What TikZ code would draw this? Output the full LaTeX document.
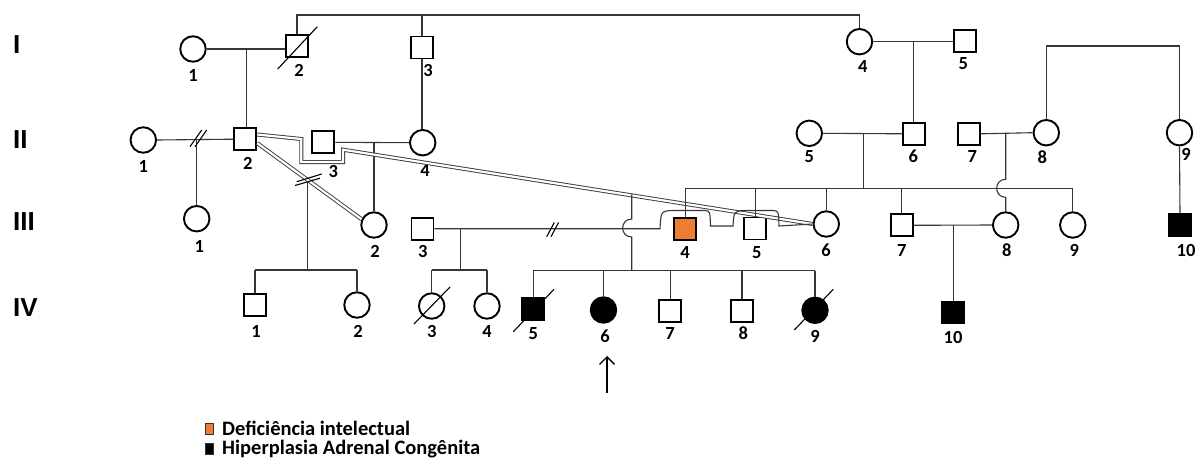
\documentclass[tikz,border=0pt]{standalone}
\usepackage{fontspec}
\setmainfont{Carlito}
\newfontfamily\genfont{Liberation Sans}
\usetikzlibrary{arrows.meta}
\definecolor{idorange}{RGB}{237,125,49}
\definecolor{lncol}{RGB}{55,55,55}
\tikzset{
 sym/.style={draw=black, line width=1.9pt, inner sep=0pt, fill=white},
 male/.style={sym, rectangle, minimum size=22pt},
 female/.style={sym, circle, minimum size=25.5pt},
 aff/.style={fill=black},
 intel/.style={fill=idorange},
 conn/.style={draw=lncol, line width=1.1pt},
 dbl/.style={draw=lncol, line width=0.9pt, double=white, double distance=2.2pt},
 num/.style={font=\bfseries\fontsize{18.5}{18.5}\selectfont, inner sep=0pt},
 gen/.style={font=\genfont\bfseries\fontsize{26}{26}\selectfont, inner sep=0pt, anchor=base west},
 slashln/.style={draw=black, line width=1.1pt},
 legbox/.style={draw=black!80, line width=1pt, minimum width=8pt, minimum height=11.5pt, inner sep=0pt},
 legtext/.style={font=\bfseries\fontsize{20.5}{20.5}\selectfont, inner sep=0pt, anchor=base west},
}
\begin{document}
\begin{tikzpicture}[x=1pt,y=-1pt]
\useasboundingbox (0,0) rectangle (1203,458);
\fill[white] (0,0) rectangle (1203,458);

% generation labels
\node[gen] (gI) at (13,53) {I};
\node[gen] (gII) at (13,148) {II};
\node[gen] (gIII) at (13,230) {III};
\node[gen] (gIV) at (13,316.7) {IV};

% generation I
\node[female] (I1) at (193,49) {};
\node[male] (I2) at (297,46) {};
\node[male] (I3) at (422,47.5) {};
\node[female] (I4) at (859.5,41.7) {};
\node[male] (I5) at (965,41.3) {};

% generation II
\node[female] (II1) at (143.3,140) {};
\node[male] (II2) at (245.3,139.2) {};
\node[male] (II3) at (323.3,142.3) {};
\node[female] (II4) at (422.7,142.7) {};
\node[female] (II5) at (809.3,133.3) {};
\node[male] (II6) at (913.7,133.8) {};
\node[male] (II7) at (968.8,133.8) {};
\node[female] (II8) at (1046.3,132.7) {};
\node[female] (II9) at (1179.5,132.7) {};

% generation III
\node[female] (III1) at (196.7,218.7) {};
\node[female] (III2) at (374,225) {};
\node[male] (III3) at (422.5,228.7) {};
\node[male, intel] (III4) at (685.3,228.7) {};
\node[male] (III5) at (755.3,228.5) {};
\node[female] (III6) at (826.3,224) {};
\node[male] (III7) at (901.7,225.3) {};
\node[female] (III8) at (1005.7,225) {};
\node[female] (III9) at (1072.8,225) {};
\node[male, aff] (III10) at (1180,225.2) {};

% generation IV
\node[male] (IV1) at (255,305) {};
\node[female] (IV2) at (357,305) {};
\node[female] (IV3) at (431.7,306) {};
\node[female] (IV4) at (487,306) {};
\node[male, aff] (IV5) at (533.3,309) {};
\node[female, aff] (IV6) at (603.5,310) {};
\node[male] (IV7) at (670.3,311) {};
\node[male] (IV8) at (742,311) {};
\node[female, aff] (IV9) at (815,310.3) {};
\node[male, aff] (IV10) at (953.2,312.5) {};

% number labels
\node[num] (lI1) at (193,75) {1};
\node[num] (lI2) at (299,70.7) {2};
\node[num] (lI3) at (428,70.7) {3};
\node[num] (lI4) at (862.7,66.7) {4};
\node[num] (lI5) at (963.3,64) {5};
\node[num] (lII1) at (143.3,166.7) {1};
\node[num] (lII2) at (247.7,163.3) {2};
\node[num] (lII3) at (333.3,171.7) {3};
\node[num] (lII4) at (425,170.7) {4};
\node[num] (lII5) at (809.3,156.7) {5};
\node[num] (lII6) at (913.3,156.7) {6};
\node[num] (lII7) at (972.3,156.7) {7};
\node[num] (lII8) at (1042.3,156.7) {8};
\node[num] (lII9) at (1186,154) {9};
\node[num] (lIII1) at (199.3,246) {1};
\node[num] (lIII2) at (375,251) {2};
\node[num] (lIII3) at (422.7,251) {3};
\node[num] (lIII4) at (685,252.7) {4};
\node[num] (lIII5) at (756.7,252.7) {5};
\node[num] (lIII6) at (826,250.7) {6};
\node[num] (lIII7) at (901.7,250) {7};
\node[num] (lIII8) at (1006.7,250) {8};
\node[num] (lIII9) at (1074.3,250) {9};
\node[num] (lIII10) at (1186,250.7) {10};
\node[num] (lIV1) at (256,331) {1};
\node[num] (lIV2) at (358,331) {2};
\node[num] (lIV3) at (431.7,331) {3};
\node[num] (lIV4) at (487,331) {4};
\node[num] (lIV5) at (533.3,333.3) {5};
\node[num] (lIV6) at (605,336) {6};
\node[num] (lIV7) at (670,333.3) {7};
\node[num] (lIV8) at (743.3,333.3) {8};
\node[num] (lIV9) at (815,336) {9};
\node[num] (lIV10) at (953,337) {10};

% ---- connectors, generation I
\coordinate (topline) at (0,15);
\draw[conn] (I2.north) |- (topline -| I4.north) -- (I4.north);
\draw[conn] (I3.north) -- (I3.north |- topline);
\draw[conn] (I1.east) -- (I1.east -| I2.west);
\coordinate (m12) at (246.7,49.3);
\draw[conn] (m12) -- (m12 |- II2.north);
\draw[conn] (I3.south) -- (I3.south |- II4.north);
\draw[conn] (I4.east) -- (I4.east -| I5.west);
\coordinate (m45) at (II6.north |- I4.east);
\draw[conn] (m45) -- (II6.north);

% ---- generation II
\draw[conn] (II1.east) -- (II2.west);
\coordinate (m1a) at (III1.north |- II1.east);
\draw[conn] (m1a) -- (III1.north);
\draw[slashln] (190,146.7) -- (201.7,130);
\draw[slashln] (195,146.7) -- (206.7,130);

\draw[conn] (II3.east) -- (II4.west);
\coordinate (m34) at (III2.north |- II4.west);
\draw[conn] (m34) -- (III2.north);

% double line II-2 to III-6 (detour below II-3)
\coordinate (b1) at (301.3,139);
\coordinate (b2) at (301.3,162);
\coordinate (b3) at (343,162);
\coordinate (b4) at (343,149.7);
\draw[dbl] ([yshift=4.7pt]II2.east) -- (b1) -- (b2) -- (b3) -- (b4) -- (III6.west);

% double line II-2 to III-2
\draw[dbl] ([yshift=-4pt]II2.east) -- (III2.155);
\draw[slashln] (296.7,181.7) -- (321.7,174);
\draw[slashln] (295,185.5) -- (320,178.2);

\coordinate (m22) at (307.3,181);
\coordinate (s1) at (307.3,270);
\draw[conn] (m22) -- (s1);
\draw[conn] (IV1.north |- s1) -- (IV2.north |- s1);
\draw[conn] (IV1.north |- s1) -- (IV1.north);
\draw[conn] (IV2.north |- s1) -- (IV2.north);

% II-5 x II-6
\draw[conn] (II5.east) -- (II6.west);
\coordinate (m56) at (863.3,133.5);
\coordinate (s3) at (863.3,188.3);
\draw[conn] (m56) -- (s3);
\draw[conn] (III4.north |- s3) -- (III9.north |- s3);
\foreach \n in {III4,III5,III6,III7,III9} {
  \draw[conn] (\n.north |- s3) -- (\n.north);
}

% II-7 x II-8
\draw[conn] (II7.east) -- (II8.west);
\coordinate (m78) at (III8.north |- II7.east);
\coordinate (h78a) at (III8.north |- 0,179.3);
\coordinate (h78b) at (III8.north |- 0,197.3);
\draw[conn] (m78) -- (h78a) .. controls +(-12,0) and +(-12,0) .. (h78b) -- (III8.north);

% II-8 / II-9 siblings
\coordinate (t89) at (0,46);
\draw[conn] (II8.north) |- (t89 -| II9.north) -- (II9.north);
\draw[conn] (II9.south) -- (III10.north);

% ---- generation III
% III-3 x III-6 with hops over III-4, III-5
\draw[conn] (III3.east) -- (660,228.7) .. controls (661,211) .. (673,210.5) -- (705,210.5)
  .. controls (710,211) .. (710.5,226) -- (733,226) .. controls (734,211) .. (745,210.5)
  -- (773,210.5) .. controls (778.5,211) .. (779,226) -- (III6.west);
\draw[slashln] (546.7,236.7) -- (554.3,222.5);
\draw[slashln] (551,236.7) -- (558.6,222.5);

\coordinate (m36) at (460.5,228.7);
\coordinate (s4) at (460.5,270);
\draw[conn] (m36) -- (s4);
\draw[conn] (IV3.north |- s4) -- (IV4.north |- s4);
\draw[conn] (IV3.north |- s4) -- (IV3.north);
\draw[conn] (IV4.north |- s4) -- (IV4.north);

% descent from the double line II-2 x III-6
\coordinate (mdbl) at (631.7,194.4);
\coordinate (hd1) at (631.7,219);
\coordinate (hd2) at (631.7,237);
\coordinate (s5) at (631.7,270.7);
\draw[conn] (mdbl) -- (hd1) .. controls +(-12,0) and +(-12,0) .. (hd2) -- (s5);
\draw[conn] (IV5.north |- s5) -- (IV9.north |- s5);
\foreach \n in {IV5,IV6,IV7,IV8,IV9} {
  \draw[conn] (\n.north |- s5) -- (\n.north);
}

% III-7 x III-8
\draw[conn] (III7.east) -- (III8.west);
\coordinate (m78b) at (IV10.north |- III7.east);
\draw[conn] (m78b) -- (IV10.north);

% deceased slashes
\draw[slashln] (277.7,69) -- (317.3,26.7);
\draw[slashln] (414,324) -- (450,287);
\draw[slashln] (513.3,331.7) -- (554,289.3);
\draw[slashln] (794.3,330) -- (833.3,289.3);

% proband arrow
\coordinate (arrtail) at (607,393);
\coordinate (arrtip) at (607,356);
\draw[draw=black, line width=1.4pt, -{Straight Barb[length=7.5pt,width=15pt]}] (arrtail) -- (arrtip);

% legend
\node[legbox, fill=idorange] (lg1) at (209,429.2) {};
\node[legtext] (lt1) at (222,435) {Deficiência intelectual};
\node[legbox, fill=black] (lg2) at (209,449.2) {};
\node[legtext] (lt2) at (222,454.5) {Hiperplasia Adrenal Congênita};
\end{tikzpicture}
\end{document}
